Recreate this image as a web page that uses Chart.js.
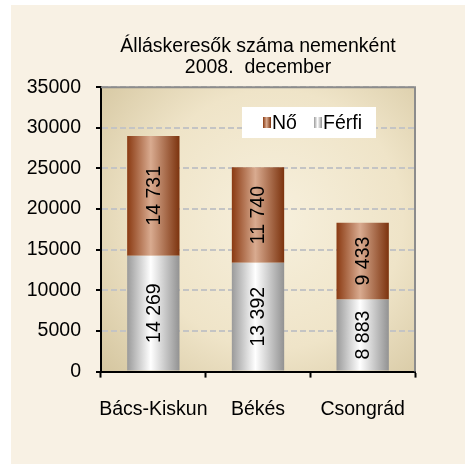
<!DOCTYPE html>
<html lang="hu">
<head>
<meta charset="UTF-8">
<title>Álláskeresők száma nemenként</title>
<script src="https://cdn.jsdelivr.net/npm/chart.js"></script>
<style>
  html, body { margin: 0; padding: 0; background: #ffffff; }
  #wrap { width: 465px; height: 464px; }
</style>
</head>
<body>
<div id="wrap"><canvas id="chart" width="465" height="464"></canvas></div>
<script>
// chart data
const categories = ['Bács-Kiskun', 'Békés', 'Csongrád'];
const ferfi = [14269, 13392, 8883];
const no = [14731, 11740, 9433];
const yTicks = [0, 5000, 10000, 15000, 20000, 25000, 30000, 35000];
const titleLines = ['Álláskeresők száma nemenként', '2008.  december'];

const FONT = "'Liberation Sans', Arial, sans-serif";
const FS = 19.5;

// thousands with a space: 14 731
function fmt(v) {
  return String(v).replace(/\B(?=(\d{3})+(?!\d))/g, ' ');
}

function barGradient(ctx, x0, x1, dark, light, dark2) {
  const g = ctx.createLinearGradient(x0, 0, x1, 0);
  g.addColorStop(0, dark);
  g.addColorStop(0.45, light);
  g.addColorStop(1, dark2);
  return g;
}

const colNo = ['#8a3a12', '#d9ab90', '#7c330e'];
const colFerfi = ['#9a9a9a', '#ffffff', '#929292'];

function scriptedFill(cols) {
  return function (c) {
    const chart = c.chart;
    const xs = chart.scales.x;
    if (!chart.chartArea || !xs || c.dataIndex === undefined) return cols[1];
    const cx = xs.getPixelForValue(c.dataIndex);
    const half = xs.width / categories.length * 0.5 / 2;
    return barGradient(chart.ctx, cx - half, cx + half, cols[0], cols[1], cols[2]);
  };
}

// page + plot area background, plot border top/right
const backdrop = {
  id: 'backdrop',
  beforeDraw(chart) {
    const { ctx, chartArea: a } = chart;
    ctx.save();
    ctx.fillStyle = '#f8f1e4';
    ctx.fillRect(11, 5, chart.width - 11, chart.height - 5);
    const cx = (a.left + a.right) / 2 + 15, cy = (a.top + a.bottom) / 2 - 10;
    const r = Math.max(a.width, a.height) * 0.75;
    const g = ctx.createRadialGradient(cx, cy, 0, cx, cy, r);
    g.addColorStop(0, '#f7f0dd');
    g.addColorStop(0.55, '#efe4c8');
    g.addColorStop(1, '#d3c49d');
    ctx.fillStyle = g;
    ctx.fillRect(a.left, a.top, a.width, a.height);
    ctx.restore();
  },
  afterDraw(chart) {
    const { ctx, chartArea: a } = chart;
    ctx.save();
    ctx.strokeStyle = '#8c8c8c';
    ctx.lineWidth = 2;
    ctx.beginPath();
    ctx.moveTo(a.left, a.top);
    ctx.lineTo(a.right, a.top);
    ctx.lineTo(a.right, a.bottom);
    ctx.stroke();
    ctx.restore();
  }
};

// rotated value labels inside the bars
const barLabels = {
  id: 'barLabels',
  afterDatasetsDraw(chart) {
    const ctx = chart.ctx;
    ctx.save();
    ctx.font = FS + 'px ' + FONT;
    ctx.fillStyle = '#000';
    ctx.textAlign = 'center';
    ctx.textBaseline = 'middle';
    chart.data.datasets.forEach((ds, di) => {
      chart.getDatasetMeta(di).data.forEach((bar, i) => {
        const y = (bar.y + bar.base) / 2;
        ctx.save();
        ctx.translate(bar.x, y);
        ctx.rotate(-Math.PI / 2);
        ctx.fillText(fmt(ds.data[i]), 0, 1);
        ctx.restore();
      });
    });
    ctx.restore();
  }
};

// legend box inside the plot area (Nő first, then Férfi)
const insideLegend = {
  id: 'insideLegend',
  afterDraw(chart) {
    const ctx = chart.ctx;
    const bx = 242, by = 107, bw = 134, bh = 31;
    ctx.save();
    ctx.fillStyle = '#ffffff';
    ctx.fillRect(bx, by, bw, bh);
    ctx.font = FS + 'px ' + FONT;
    ctx.textBaseline = 'middle';
    const items = [
      { label: chart.data.datasets[1].label, cols: colNo, x: 263 },
      { label: chart.data.datasets[0].label, cols: colFerfi, x: 314 }
    ];
    items.forEach(it => {
      ctx.fillStyle = barGradient(ctx, it.x, it.x + 8, it.cols[0], it.cols[1], it.cols[2]);
      ctx.fillRect(it.x, 117, 8, 11);
      ctx.fillStyle = '#000';
      ctx.fillText(it.label, it.x + 9, by + bh / 2 + 1);
    });
    ctx.restore();
  }
};

new Chart(document.getElementById('chart'), {
  type: 'bar',
  data: {
    labels: categories,
    datasets: [
      { label: 'Férfi', data: ferfi, backgroundColor: scriptedFill(colFerfi) },
      { label: 'Nő', data: no, backgroundColor: scriptedFill(colNo) }
    ]
  },
  options: {
    responsive: false,
    animation: false,
    layout: { padding: { left: 27, right: 50, top: 0, bottom: 23 } },
    datasets: { bar: { barPercentage: 1, categoryPercentage: 0.5, borderWidth: 0 } },
    plugins: {
      legend: { display: false },
      tooltip: { enabled: false },
      title: {
        display: true,
        text: titleLines,
        fullSize: false,
        color: '#000',
        font: { family: FONT, size: FS, weight: 'normal', lineHeight: 1.03 },
        padding: { top: 37, bottom: 10 }
      }
    },
    scales: {
      x: {
        stacked: true,
        grid: { offset: true, drawOnChartArea: false, tickLength: 6, tickColor: '#000', tickWidth: 2 },
        border: { color: '#000', width: 2 },
        ticks: { color: '#000', padding: 20, maxRotation: 0, minRotation: 0, autoSkip: false, font: { family: FONT, size: FS } }
      },
      y: {
        stacked: true,
        min: yTicks[0],
        max: yTicks[yTicks.length - 1],
        afterFit(s) { s.width = 74; },
        afterBuildTicks(s) { s.ticks = yTicks.map(v => ({ value: v })); },
        ticks: { color: '#000', padding: 15, font: { family: FONT, size: FS }, callback: v => String(v) },
        grid: { color: '#c4c4c4', lineWidth: 2, tickLength: 5, tickColor: '#000', tickWidth: 2 },
        border: { color: '#000', width: 2, dash: [6, 3] }
      }
    }
  },
  plugins: [backdrop, barLabels, insideLegend]
});
</script>
</body>
</html>
